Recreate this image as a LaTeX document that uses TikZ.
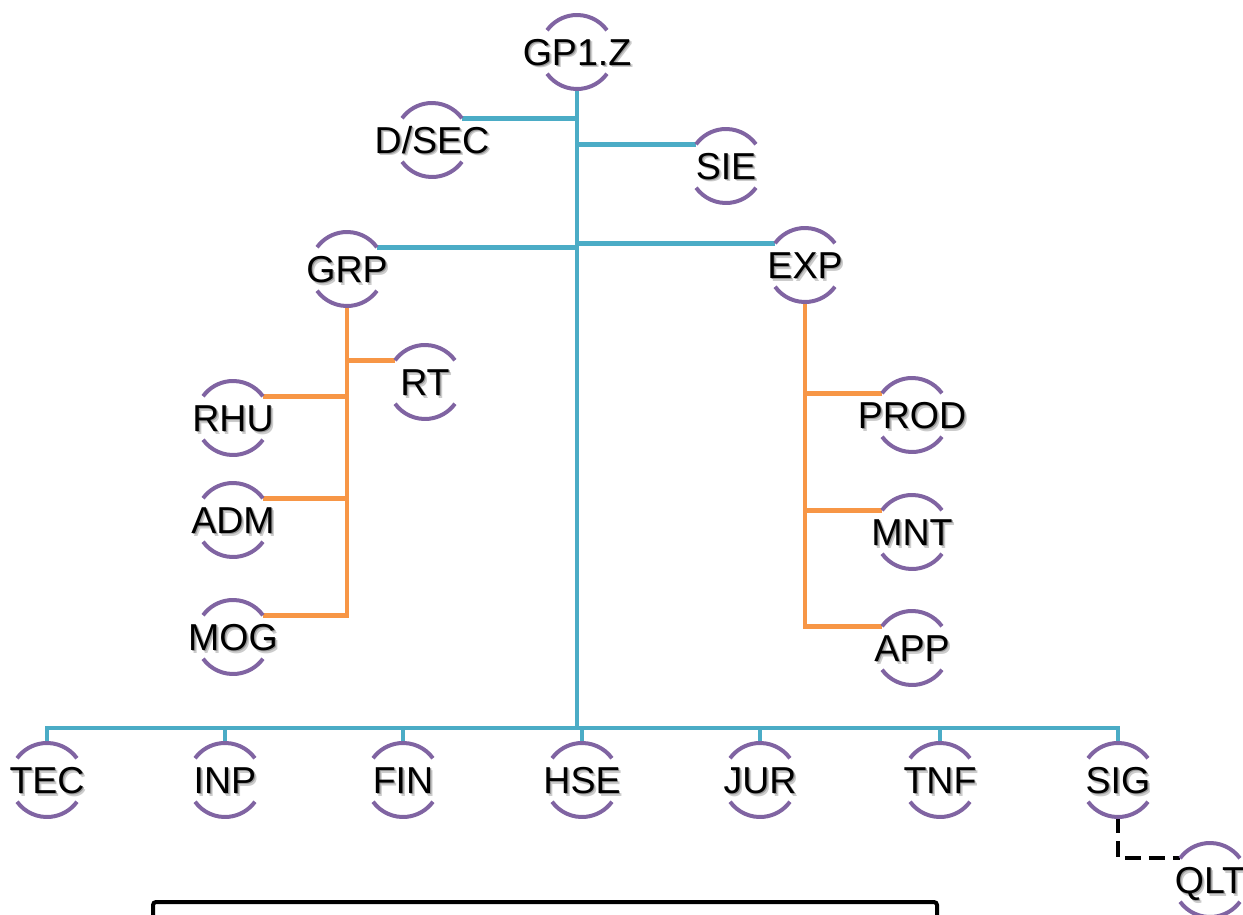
\documentclass[tikz,border=0pt]{standalone}
\usepackage{fontspec}
\setmainfont{Liberation Sans}
\definecolor{trunkblue}{HTML}{4BACC6}
\definecolor{branchorange}{HTML}{F79646}
\definecolor{ringpurple}{HTML}{8064A2}
\tikzset{
  unitcirc/.style={circle, minimum size=74pt, inner sep=0pt, outer sep=0pt},
  ring/.style={draw=ringpurple, line width=4pt},
  lbl/.style={inner sep=0pt, text height=27pt, text depth=0pt,
              font=\fontsize{37.5}{40}\selectfont},
  blueline/.style={draw=trunkblue, line width=4.5pt},
  orangeline/.style={draw=branchorange, line width=4.5pt},
  dashline/.style={draw=black, line width=4pt, dash pattern=on 16pt off 8pt},
  framebar/.style={draw=black, line width=4pt, rounded corners=3pt},
}
% one unit: invisible circle for anchors, two purple arcs, shadowed label
\newcommand\orgunit[4]{%
  \node[unitcirc] (#1) at (#2,-#3) {};
  \draw[ring] (#1.36) arc[start angle=36, end angle=144, radius=37pt];
  \draw[ring] (#1.216) arc[start angle=216, end angle=324, radius=37pt];
  \node[lbl, text=black!20] at ([shift={(2.5pt,-2.5pt)}]#1.center) {#4};
  \node[lbl, text=black!40] at ([shift={(1.2pt,-1.2pt)}]#1.center) {#4};
  \node[lbl] at (#1.center) {#4};
}
\begin{document}
\begin{tikzpicture}[x=1pt, y=1pt]
\useasboundingbox (0,0) rectangle (1243,-915);
\clip (0,0) rectangle (1243,-915);

% anchor circles for every unit
\coordinate (bus) at (577,-728);
\path (577,-52) node[unitcirc] (gp) {};
\path (432,-140) node[unitcirc] (dsec) {} (726,-166) node[unitcirc] (sie) {};
\path (347,-269) node[unitcirc] (grp) {} (805,-265) node[unitcirc] (exp) {};
\path (425,-382) node[unitcirc] (rt) {};
\path (233,-418) node[unitcirc] (rhu) {} (233,-520) node[unitcirc] (adm) {} (233,-637) node[unitcirc] (mog) {};
\path (912,-415) node[unitcirc] (prod) {} (912,-532) node[unitcirc] (mnt) {} (912,-648) node[unitcirc] (app) {};
\path (47,-780) node[unitcirc] (tec) {} (225,-780) node[unitcirc] (inp) {} (403,-780) node[unitcirc] (fin) {};
\path (582,-780) node[unitcirc] (hse) {} (760,-780) node[unitcirc] (jur) {} (940,-780) node[unitcirc] (tnf) {};
\path (1118,-780) node[unitcirc] (sig) {};
\path (1210,-880) node[unitcirc] (qlt) {};

% blue trunk and its branches
\draw[blueline] (gp.south) -- (bus);
\draw[blueline] (dsec.36) -- (dsec.36 -| gp.south);
\draw[blueline] (sie.144) -- (sie.144 -| gp.south);
\draw[blueline] (grp.36) -- (grp.36 -| gp.south);
\draw[blueline] (exp.144) -- (exp.144 -| gp.south);
\draw[blueline] (tec.north) |- (bus) -| (sig.north);
\foreach \n in {inp,fin,hse,jur,tnf}
  \draw[blueline] (\n.north) -- (\n.north |- bus);

% orange sub-branches
\draw[orangeline] (grp.south) |- (mog.36);
\draw[orangeline] (rhu.36) -- (rhu.36 -| grp.south);
\draw[orangeline] (adm.36) -- (adm.36 -| grp.south);
\draw[orangeline] (rt.144) -- (rt.144 -| grp.south);

\draw[orangeline] (exp.south) |- (app.144);
\draw[orangeline] (prod.144) -- (prod.144 -| exp.south);
\draw[orangeline] (mnt.144) -- (mnt.144 -| exp.south);

\draw[dashline] (sig.south) |- (qlt.144);

% frame along the lower edge
\draw[framebar] (153,-940) -- (153,-902) -- (937,-902) -- (937,-940);

% units
\orgunit{gp}{577}{52}{GP1.Z}
\orgunit{dsec}{432}{140}{D/SEC}
\orgunit{sie}{726}{166}{SIE}
\orgunit{grp}{347}{269}{GRP}
\orgunit{exp}{805}{265}{EXP}
\orgunit{rt}{425}{382}{RT}
\orgunit{rhu}{233}{418}{RHU}
\orgunit{adm}{233}{520}{ADM}
\orgunit{mog}{233}{637}{MOG}
\orgunit{prod}{912}{415}{PROD}
\orgunit{mnt}{912}{532}{MNT}
\orgunit{app}{912}{648}{APP}
\orgunit{tec}{47}{780}{TEC}
\orgunit{inp}{225}{780}{INP}
\orgunit{fin}{403}{780}{FIN}
\orgunit{hse}{582}{780}{HSE}
\orgunit{jur}{760}{780}{JUR}
\orgunit{tnf}{940}{780}{TNF}
\orgunit{sig}{1118}{780}{SIG}
\orgunit{qlt}{1210}{880}{QLT}
\end{tikzpicture}
\end{document}
